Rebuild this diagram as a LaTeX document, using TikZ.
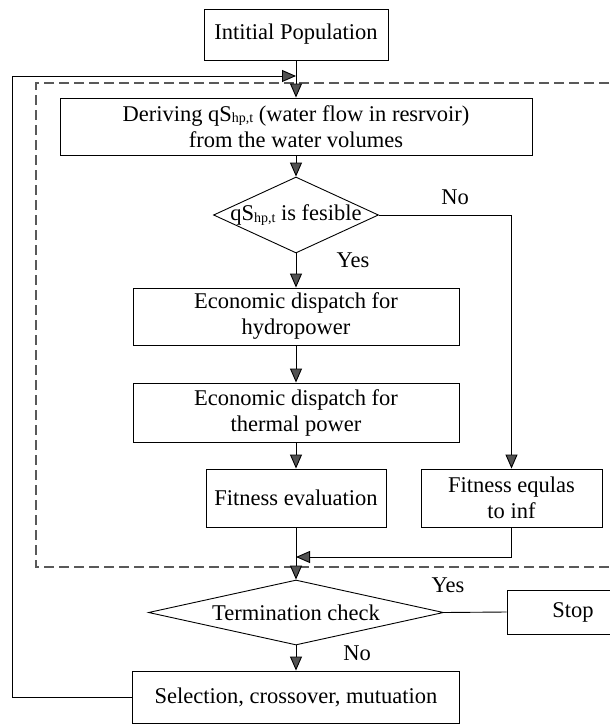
\documentclass[tikz,border=0pt]{standalone}
\usepackage{fontspec}
\setmainfont{Liberation Serif}
\usetikzlibrary{arrows.meta,shapes.geometric}
\newcommand{\hpsub}{\raisebox{-1.5pt}{\fontsize{14}{14}\selectfont hp,t}}
\begin{document}
\begin{tikzpicture}[x=1pt,y=-1pt,
  every node/.style={font=\fontsize{22.5}{26}\selectfont},
  box/.style={draw,line width=0.9pt,inner sep=0pt,align=center},
  dia/.style={draw,line width=0.9pt,shape=diamond,inner sep=0pt},
  lbl/.style={inner sep=0pt},
  ln/.style={line width=0.9pt},
  arr/.style={line width=0.9pt,-{Triangle[length=14pt,width=12pt,fill=black!68]}},
  dsh/.style={line width=1.1pt,draw=black!65,dash pattern=on 10pt off 5pt}
]
\useasboundingbox (0,0) rectangle (610,728);

% dashed frame
\draw[dsh] (609,83) -- (36,83) -- (36,567) -- (609,567);

% boxes
\node[box,minimum width=184pt,minimum height=51pt] (init) at (296,34.5) {Intitial Population};
\node[box,minimum width=472pt,minimum height=57pt] (deriv) at (296,126.5) {Deriving qS\hpsub{} (water flow in resrvoir)\\from the water volumes};
\node[dia,minimum width=165pt,minimum height=76pt] (d1) at (296,215) {};
\node[lbl] (d1t) at (d1.center) {qS\hpsub{} is fesible};
\node[box,minimum width=326pt,minimum height=57pt] (ed1) at (296,316.5) {Economic dispatch for\\hydropower};
\node[box,minimum width=326pt,minimum height=59pt] (ed2) at (296,412.5) {Economic dispatch for\\thermal power};
\node[box,minimum width=180pt,minimum height=58pt] (fe) at (296,498) {Fitness evaluation};
\node[box,minimum width=181pt,minimum height=58pt] (finf) at (511.5,498) {Fitness equlas\\to inf};
\node[dia,minimum width=295pt,minimum height=65pt] (d2) at (296,612.5) {};
\node[lbl] (d2t) at (d2.center) {Termination check};
\node[box,minimum width=132pt,minimum height=44pt] (stop) at (573,612) {Stop};
\node[box,minimum width=327pt,minimum height=52pt] (sel) at (296,697) {Selection, crossover, mutuation};

% labels
\node[lbl] (yes1) at (353,260) {Yes};
\node[lbl] (no1) at (455,197) {No};
\node[lbl] (yes2) at (448,585) {Yes};
\node[lbl] (no2) at (357,653) {No};

% helper coordinates
\coordinate (lb) at (12,697);
\coordinate (lt) at (12,76);
\coordinate (lm) at (296,76);
\coordinate (m) at (296,557);

% connectors
\draw[arr] (init.south) -- (deriv.north);
\draw[arr] (sel.west) -- (lb) -- (lt) -- (lm);
\draw[arr] (deriv.south) -- (d1.north);
\draw[arr] (d1.south) -- (ed1.north);
\draw[arr] (ed1.south) -- (ed2.north);
\draw[arr] (ed2.south) -- (fe.north);
\draw[arr] (d1.east) -| (finf.north);
\draw[ln] (fe.south) -- (m);
\draw[arr] (finf.south) |- (m);
\draw[arr] (m) -- (d2.north);
\draw[ln] (d2.east) -- (stop.west);
\draw[arr] (d2.south) -- (sel.north);
\end{tikzpicture}
\end{document}
